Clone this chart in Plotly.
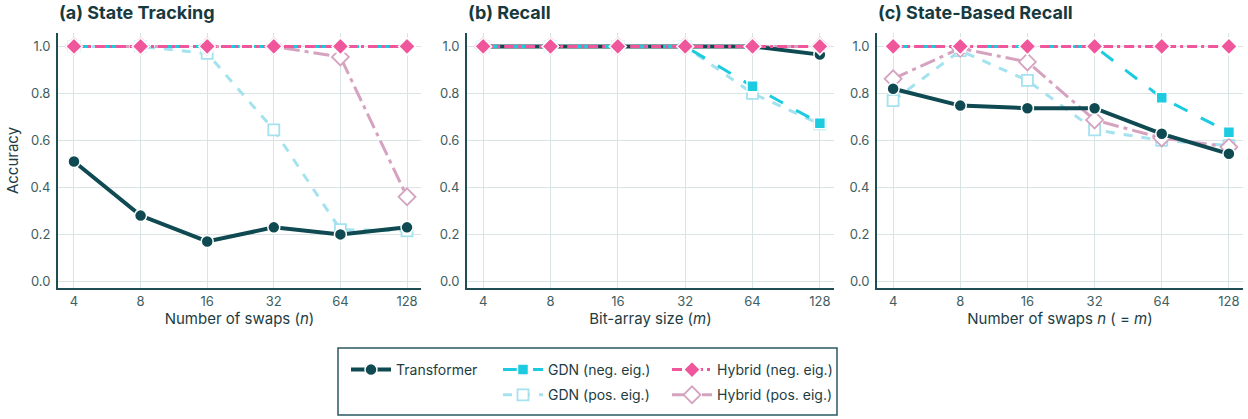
import math
import plotly.graph_objects as go

# ---------------- data ----------------
x_vals = [4, 8, 16, 32, 64, 128]
x_labels = ["4", "8", "16", "32", "64", "128"]

panel_titles = ["<b>(a) State Tracking</b>", "<b>(b) Recall</b>", "<b>(c) State-Based Recall</b>"]
x_titles = ["Number of swaps (<i>n</i>)", "Bit-array size (<i>m</i>)", "Number of swaps <i>n</i> ( = <i>m</i>)"]

# panel (a) State Tracking
a_transformer = [0.51, 0.28, 0.17, 0.23, 0.20, 0.23]
a_gdn_neg = [1.0, 1.0, 1.0, 1.0, 1.0, 1.0]
a_gdn_pos = [1.0, 1.0, 0.97, 0.645, 0.22, 0.215]
a_hyb_neg = [1.0, 1.0, 1.0, 1.0, 1.0, 1.0]
a_hyb_pos = [1.0, 1.0, 1.0, 1.0, 0.955, 0.36]

# panel (b) Recall
b_transformer = [1.0, 1.0, 1.0, 1.0, 1.0, 0.965]
b_gdn_neg = [1.0, 1.0, 1.0, 1.0, 0.83, 0.673]
b_gdn_pos = [1.0, 1.0, 1.0, 1.0, 0.80, 0.67]
b_hyb_neg = [1.0, 1.0, 1.0, 1.0, 1.0, 1.0]
b_hyb_pos = [1.0, 1.0, 1.0, 1.0, 1.0, 1.0]

# panel (c) State-Based Recall
c_transformer = [0.82, 0.748, 0.737, 0.737, 0.628, 0.543]
c_gdn_neg = [1.0, 1.0, 1.0, 1.0, 0.781, 0.635]
c_gdn_pos = [0.769, 0.982, 0.855, 0.645, 0.60, 0.578]
c_hyb_neg = [1.0, 1.0, 1.0, 1.0, 1.0, 1.0]
c_hyb_pos = [0.862, 0.992, 0.934, 0.687, 0.61, 0.572]

y_ticks = [0.0, 0.2, 0.4, 0.6, 0.8, 1.0]
y_labels = ["0.0", "0.2", "0.4", "0.6", "0.8", "1.0"]

# ---------------- styles ----------------
FONT = "Inter"
C_TR = "#0f4a52"
C_GN = "#1ccbe0"
C_GP = "#a3e2ee"
C_HN = "#f0569b"
C_HP = "#d5a3c0"
AXIS_C = "#1e4d53"
TICK_C = "#3e5e62"
GRID_C = "#dbe4e4"

series_style = {
    "Transformer": dict(color=C_TR, dash="solid", width=4, symbol="circle", size=12, fill=C_TR, lw=1.5, lc="white", legend="legend"),
    "GDN (neg. eig.)": dict(color=C_GN, dash="longdash", width=3, symbol="square", size=11, fill=C_GN, lw=1.5, lc="white", legend="legend2"),
    "GDN (pos. eig.)": dict(color=C_GP, dash="dash", width=3, symbol="square", size=11, fill="white", lw=1.8, lc=C_GP, legend="legend2"),
    "Hybrid (neg. eig.)": dict(color=C_HN, dash="10px,4px,3px,4px", width=3, symbol="diamond", size=13, fill=C_HN, lw=1.5, lc="white", legend="legend3"),
    "Hybrid (pos. eig.)": dict(color=C_HP, dash="16px,5px,4px,5px", width=3, symbol="diamond", size=13, fill="white", lw=1.8, lc=C_HP, legend="legend3"),
}

panels = [
    {"Transformer": a_transformer, "GDN (neg. eig.)": a_gdn_neg, "GDN (pos. eig.)": a_gdn_pos,
     "Hybrid (neg. eig.)": a_hyb_neg, "Hybrid (pos. eig.)": a_hyb_pos},
    {"Transformer": b_transformer, "GDN (neg. eig.)": b_gdn_neg, "GDN (pos. eig.)": b_gdn_pos,
     "Hybrid (neg. eig.)": b_hyb_neg, "Hybrid (pos. eig.)": b_hyb_pos},
    {"Transformer": c_transformer, "GDN (neg. eig.)": c_gdn_neg, "GDN (pos. eig.)": c_gdn_pos,
     "Hybrid (neg. eig.)": c_hyb_neg, "Hybrid (pos. eig.)": c_hyb_pos},
]

draw_order = ["GDN (pos. eig.)", "Hybrid (pos. eig.)", "Transformer", "GDN (neg. eig.)", "Hybrid (neg. eig.)"]
legend_rank = {"Transformer": 1, "GDN (neg. eig.)": 2, "GDN (pos. eig.)": 3, "Hybrid (neg. eig.)": 4, "Hybrid (pos. eig.)": 5}

W, H = 1248, 419
x_domains = [(58, 421), (467, 834), (877, 1243)]
y_top, y_bot = 33, 288

fig = go.Figure()
for i, data in enumerate(panels):
    xa = "x" if i == 0 else f"x{i+1}"
    ya = "y" if i == 0 else f"y{i+1}"
    for name in draw_order:
        s = series_style[name]
        fig.add_trace(go.Scatter(
            x=x_vals, y=data[name], name=name, xaxis=xa, yaxis=ya,
            mode="lines+markers",
            line=dict(color=s["color"], dash=s["dash"], width=s["width"]),
            marker=dict(symbol=s["symbol"], size=s["size"], color=s["fill"],
                        line=dict(color=s["lc"], width=s["lw"])),
            showlegend=(i == 0), legend=s["legend"], legendgroup=name,
            legendrank=legend_rank[name],
        ))

lo = math.log10(4) - 0.24 * math.log10(2)
hi = math.log10(128) + 0.21 * math.log10(2)

layout = dict(
    width=W, height=H,
    margin=dict(l=0, r=0, t=0, b=0, autoexpand=False),
    paper_bgcolor="white", plot_bgcolor="white",
    font=dict(family=FONT, color=TICK_C, size=13),
    annotations=[],
    shapes=[],
)
for i in range(3):
    sx = "" if i == 0 else str(i + 1)
    x0, x1 = x_domains[i]
    layout["xaxis" + sx] = dict(
        type="log", domain=[x0 / W, x1 / W], anchor="y" + sx, range=[lo, hi],
        tickvals=x_vals, ticktext=x_labels, showgrid=True, gridcolor=GRID_C, gridwidth=1,
        showline=True, linecolor=AXIS_C, linewidth=2, ticks="", zeroline=False,
        tickfont=dict(size=13, color=TICK_C), automargin=False,
        title=dict(text=x_titles[i], font=dict(size=15, color="#1d3d42"), standoff=6),
    )
    layout["yaxis" + sx] = dict(
        domain=[1 - y_bot / H, 1 - y_top / H], anchor="x" + sx, range=[-0.028, 1.057],
        tickvals=y_ticks, ticktext=y_labels, showgrid=True, gridcolor=GRID_C, gridwidth=1,
        showline=True, linecolor=AXIS_C, linewidth=2, zeroline=False,
        ticks="outside", ticklen=3, tickcolor="rgba(0,0,0,0)",
        tickfont=dict(size=13, color=TICK_C), automargin=False,
        title=dict(text="Accuracy" if i == 0 else "", font=dict(size=15, color="#1d3d42"), standoff=8),
    )
    layout["annotations"].append(dict(
        text=panel_titles[i], xref="paper", yref="paper", x=x0 / W - 0.001, y=1 - 13 / H,
        xanchor="left", yanchor="middle", showarrow=False,
        font=dict(size=18, color="#173a3f", family=FONT),
    ))

leg_common = dict(font=dict(size=14, color="#1d3d42", family=FONT), bgcolor="rgba(0,0,0,0)",
                  borderwidth=0, yanchor="top", xanchor="left", tracegroupgap=4,
                  itemwidth=40, orientation="v")
layout["legend"] = dict(leg_common, x=346 / W, y=1 - 354 / H)
layout["legend2"] = dict(leg_common, x=498 / W, y=1 - 354 / H)
layout["legend3"] = dict(leg_common, x=667 / W, y=1 - 354 / H)
layout["shapes"].append(dict(type="rect", xref="paper", yref="paper",
                             x0=338 / W, x1=837 / W, y0=1 - 415 / H, y1=1 - 348 / H,
                             line=dict(color="#2a5a60", width=1.5), fillcolor="rgba(0,0,0,0)"))

fig.update_layout(**layout)
fig.write_html("out.html", config={"displayModeBar": False},
               post_script="document.body.style.margin='0';document.body.style.padding='0';")
